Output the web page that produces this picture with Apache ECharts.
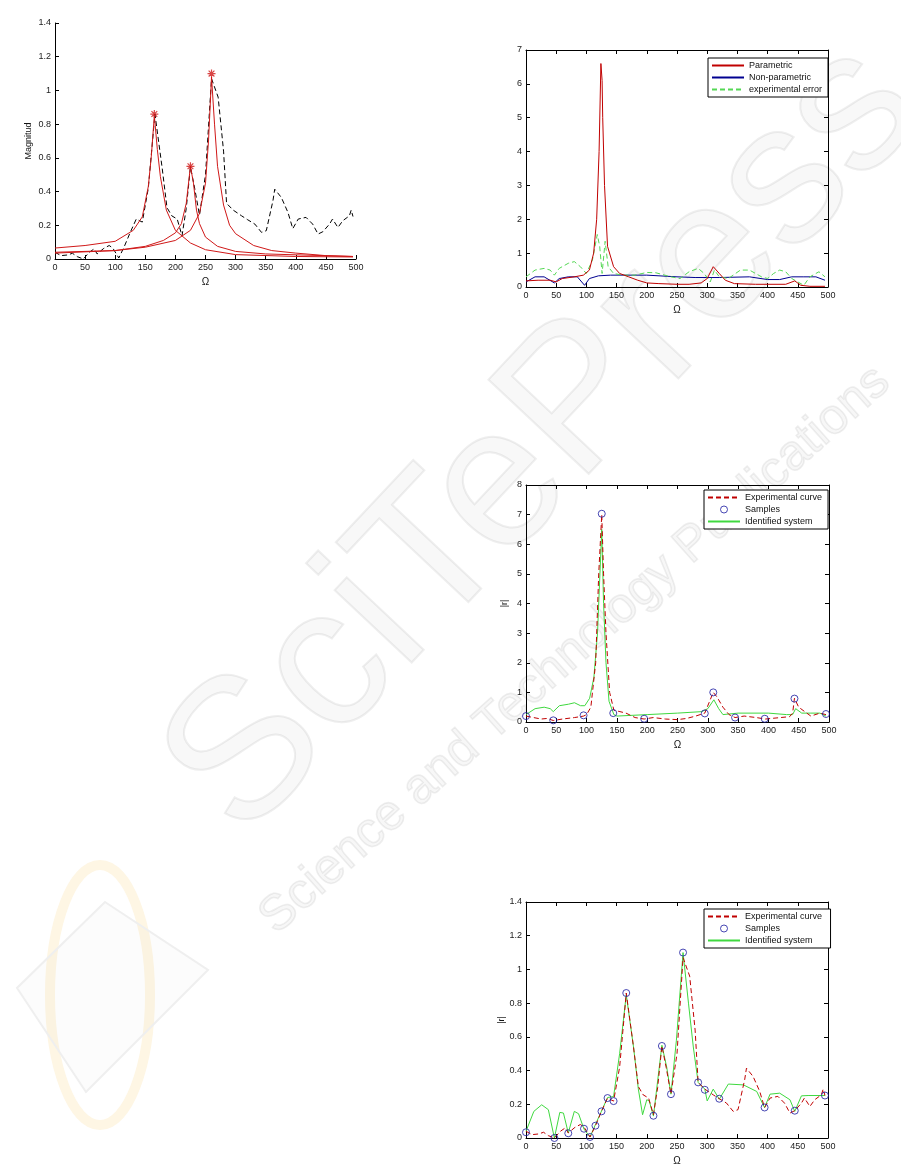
<!DOCTYPE html>
<html><head><meta charset="utf-8">
<script src="https://cdn.jsdelivr.net/npm/echarts@6/dist/echarts.min.js"></script>
<style>html,body{margin:0;padding:0;background:#fff}#c{width:901px;height:1171px}</style>
</head><body><div id="c"></div>
<script>
// ---------- shared x ticks ----------
const xTicks = [0,50,100,150,200,250,300,350,400,450,500];

// ---------- experimental curve (charts 1 and 4) ----------
const expX = [0,10,21,29,37,47,57,65,70,81,90,96,106,115,125,135,145,155,166,178,186,194,203,211,218,225,232,240,250,260,271,280,285,296,310,320,332,343,351,362,365,376,387,395,404,417,428,437,445,456,461,470,478,489,492,495];
const expY = [0.04,0.02,0.024,0.034,0.014,0.0,0.04,0.06,0.03,0.063,0.08,0.065,0.006,0.073,0.158,0.237,0.219,0.42,0.86,0.54,0.305,0.256,0.237,0.138,0.3,0.546,0.42,0.26,0.5,1.07,0.96,0.64,0.33,0.29,0.256,0.233,0.207,0.158,0.168,0.345,0.414,0.365,0.276,0.18,0.237,0.247,0.207,0.148,0.162,0.207,0.237,0.187,0.227,0.256,0.29,0.252];

// ---------- chart 1: modal fits ----------
const fitAX = [0,50,100,130,145,155,160,165,170,175,185,200,225,250,300,400,495];
const fitAY = [0.065,0.08,0.105,0.17,0.25,0.43,0.61,0.85,0.65,0.49,0.29,0.17,0.095,0.055,0.026,0.015,0.012];
const fitBX = [0,100,150,180,200,210,218,225,230,235,240,250,270,300,350,495];
const fitBY = [0.035,0.05,0.075,0.11,0.155,0.21,0.33,0.55,0.45,0.29,0.21,0.13,0.075,0.045,0.03,0.015];
const fitCX = [0,100,150,200,225,240,250,255,260,265,270,280,290,300,330,360,400,450,495];
const fitCY = [0.04,0.05,0.07,0.11,0.17,0.27,0.45,0.7,1.08,0.8,0.55,0.32,0.2,0.15,0.08,0.05,0.035,0.02,0.015];
const peakX = [165,225,260];
const peakY = [0.86,0.55,1.1];

// ---------- chart 2 ----------
const parX = [0,20,40,50,60,80,95,105,112,117,121,124,126,127,130,135,145,155,170,185,200,220,250,270,290,300,310,320,330,345,380,430,445,455,470,495];
const parY = [0.18,0.2,0.2,0.15,0.25,0.3,0.35,0.5,1.0,2.0,4.0,6.6,6.1,5.0,3.0,1.2,0.6,0.4,0.3,0.2,0.12,0.1,0.08,0.08,0.12,0.25,0.6,0.4,0.2,0.1,0.08,0.08,0.18,0.05,0.02,0.02];
const nonX = [0,15,30,47,55,70,85,97,105,120,140,200,250,280,320,370,400,420,440,460,480,495];
const nonY = [0.15,0.3,0.3,0.12,0.25,0.3,0.3,0.05,0.25,0.33,0.35,0.35,0.3,0.28,0.28,0.3,0.22,0.22,0.3,0.3,0.3,0.2];
const errX = [0,15,30,40,47,55,70,80,90,100,110,118,122,126,131,136,145,160,180,200,215,240,255,270,285,295,305,312,320,335,355,370,390,400,410,420,430,440,460,470,485,495];
const errY = [0.3,0.5,0.55,0.5,0.35,0.55,0.7,0.75,0.6,0.4,0.8,1.55,1.2,0.4,1.35,0.6,0.4,0.35,0.35,0.43,0.42,0.3,0.25,0.45,0.55,0.4,0.15,0.5,0.3,0.25,0.5,0.5,0.3,0.25,0.4,0.5,0.45,0.25,0.05,0.3,0.45,0.3];

// ---------- chart 3 ----------
const e3X = [0,25,35,45,60,80,95,100,107,115,120,125,128,132,138,145,155,165,180,195,210,230,250,265,280,295,303,309,315,325,335,345,360,380,395,420,435,440,443,450,460,470,485,495];
const e3Y = [0.2,0.1,0.12,0.05,0.1,0.15,0.2,0.25,0.5,2.0,5.0,7.0,5.0,3.0,1.0,0.4,0.35,0.3,0.15,0.1,0.15,0.1,0.08,0.12,0.2,0.3,0.7,1.0,0.85,0.5,0.25,0.15,0.2,0.15,0.1,0.15,0.18,0.3,0.8,0.5,0.35,0.2,0.3,0.25];
const s3X = [0,45,95,125,144,195,295,309,345,394,443,495];
const s3Y = [0.2,0.056,0.225,7.03,0.3,0.11,0.29,1.0,0.15,0.11,0.79,0.27];
const g3X = [0,15,30,40,45,55,70,80,90,97,105,112,118,122,125,128,132,137,145,150,200,250,290,300,310,318,325,350,400,430,440,445,455,470,485,495];
const g3Y = [0.25,0.45,0.5,0.45,0.35,0.55,0.6,0.65,0.55,0.55,0.8,1.5,3.0,5.0,6.5,4.0,2.0,0.7,0.25,0.2,0.25,0.3,0.35,0.45,0.75,0.45,0.25,0.3,0.3,0.25,0.25,0.45,0.3,0.3,0.3,0.2];

// ---------- chart 4 ----------
const s4X = [0,47,70,96,106,115,125,135,145,166,211,225,240,260,285,296,320,395,445,495];
const s4Y = [0.034,0.0,0.028,0.055,0.006,0.073,0.158,0.237,0.219,0.86,0.132,0.546,0.26,1.1,0.33,0.286,0.233,0.181,0.162,0.252];
const g4X = [0,13,26,37,47,56,62,70,80,87,96,106,115,125,135,145,155,166,178,186,193,200,204,211,225,233,240,249,260,269,277,285,296,300,310,313,320,335,360,382,395,404,420,437,445,456,467,495];
const g4Y = [0.04,0.158,0.197,0.168,0.0,0.152,0.148,0.03,0.158,0.144,0.053,0.006,0.08,0.16,0.24,0.246,0.5,0.85,0.54,0.29,0.138,0.227,0.22,0.13,0.55,0.42,0.26,0.58,1.1,0.8,0.54,0.33,0.29,0.22,0.29,0.3,0.23,0.32,0.315,0.276,0.18,0.26,0.266,0.227,0.158,0.25,0.252,0.252];

const zip = (xs, ys) => xs.map((x, i) => [x, ys[i]]);

const FONT = 'Liberation Sans';
const grids = [
  {left: 55, top: 23, width: 301, height: 236},
  {left: 526, top: 50, width: 302, height: 237},
  {left: 526, top: 485, width: 303, height: 237},
  {left: 526, top: 902, width: 302, height: 236}
];
const yRanges = [[0,1.4,0.2],[0,7,1],[0,8,1],[0,1.4,0.2]];
const yNames = ['Magnitud', '', '|r|', '|r|'];

const xAxes = [], yAxes = [];
grids.forEach((g, i) => {
  const boxed = i > 0;
  const base = {
    type: 'value', gridIndex: i, min: 0, max: 500, interval: 50,
    axisLine: {show: true, onZero: false, lineStyle: {color: '#000', width: 1}},
    axisTick: {show: true, inside: true, length: 4, lineStyle: {color: '#000'}},
    splitLine: {show: false}
  };
  xAxes.push(Object.assign({}, base, {
    position: 'bottom', name: 'Ω', nameLocation: 'middle', nameGap: 18,
    nameTextStyle: {fontFamily: FONT, fontSize: 10, color: '#111'},
    axisLabel: {fontFamily: FONT, fontSize: 9, color: '#222', margin: 4}
  }));
  const [mn, mx, iv] = yRanges[i];
  const ybase = {
    type: 'value', gridIndex: i, min: mn, max: mx, interval: iv,
    axisLine: {show: true, onZero: false, lineStyle: {color: '#000', width: 1}},
    axisTick: {show: true, inside: true, length: 4, lineStyle: {color: '#000'}},
    splitLine: {show: false}
  };
  yAxes.push(Object.assign({}, ybase, {
    position: 'left', name: yNames[i], nameLocation: 'middle', nameGap: i === 0 ? 22 : 17,
    nameTextStyle: {fontFamily: FONT, fontSize: 9, color: '#111'},
    axisLabel: {fontFamily: FONT, fontSize: 9, color: '#222', margin: 4}
  }));
  if (boxed) {
    xAxes.push(Object.assign({}, base, {position: 'top', axisLabel: {show: false}}));
    yAxes.push(Object.assign({}, ybase, {position: 'right', axisLabel: {show: false}}));
  }
});
const XI = [0, 1, 3, 5];
const YI = [0, 1, 3, 5];

const RED = '#d01818', DRED = '#c00000', BLUE = '#000090', LGREEN = '#55d855', GREEN = '#3fd83f', CIRC = '#1a1aa0';

function line(name, ci, data, color, dashed, z) {
  return {
    name, type: 'line', xAxisIndex: XI[ci], yAxisIndex: YI[ci], data,
    symbol: 'none', smooth: false, animation: false, z: z || 2,
    lineStyle: {color, width: 1, type: dashed ? [5, 3] : 'solid'},
    itemStyle: {color}
  };
}
const STAR = 'path://M0,-5L0,5M-5,0L5,0M-3.6,-3.6L3.6,3.6M-3.6,3.6L3.6,-3.6';

const series = [
  line('exp1', 0, zip(expX, expY), '#000', true),
  line('fitA', 0, zip(fitAX, fitAY), RED, false),
  line('fitB', 0, zip(fitBX, fitBY), RED, false),
  line('fitC', 0, zip(fitCX, fitCY), RED, false),
  {type: 'scatter', xAxisIndex: 0, yAxisIndex: 0, data: zip(peakX, peakY), symbol: STAR, symbolSize: 8,
   itemStyle: {color: 'none', borderColor: RED, borderWidth: 1.2}, animation: false, z: 5},

  line('Parametric', 1, zip(parX, parY), DRED, false, 3),
  line('Non-parametric', 1, zip(nonX, nonY), BLUE, false, 2),
  line('experimental error', 1, zip(errX, errY), LGREEN, true, 2),

  line('Experimental curve', 2, zip(e3X, e3Y), DRED, true, 3),
  {name: 'Samples', type: 'scatter', xAxisIndex: XI[2], yAxisIndex: YI[2], data: zip(s3X, s3Y), symbol: 'circle', symbolSize: 7,
   itemStyle: {color: 'rgba(255,255,255,0)', borderColor: CIRC, borderWidth: 1}, animation: false, z: 5},
  line('Identified system', 2, zip(g3X, g3Y), GREEN, false, 2),

  line('Experimental curve ', 3, zip(expX, expY), DRED, true, 3),
  {name: 'Samples ', type: 'scatter', xAxisIndex: XI[3], yAxisIndex: YI[3], data: zip(s4X, s4Y), symbol: 'circle', symbolSize: 7,
   itemStyle: {color: 'rgba(255,255,255,0)', borderColor: CIRC, borderWidth: 1}, animation: false, z: 5},
  line('Identified system ', 3, zip(g4X, g4Y), GREEN, false, 2)
];

const NOSYM = {opacity: 0};
function li(name) { return {name, itemStyle: NOSYM}; }
const SAMP = {color: '#fff', borderColor: CIRC, borderWidth: 1};
function legend(data, left, top) {
  return {
    data, left, top, orient: 'vertical', itemWidth: 32, itemHeight: 7, itemGap: 3,
    padding: [3, 6, 3, 3], backgroundColor: '#fff', borderColor: '#000', borderWidth: 1, borderRadius: 0,
    textStyle: {fontFamily: FONT, fontSize: 9, color: '#111'}, selectedMode: false
  };
}

const WM = '#efefef';
const option = {
  backgroundColor: '#fff',
  animation: false,
  grid: grids.map((g) => Object.assign({containLabel: false, show: false}, g)),
  xAxis: xAxes,
  yAxis: yAxes,
  legend: [
    legend([li('Parametric'), li('Non-parametric'), li('experimental error')], 708, 58),
    legend([li('Experimental curve'), {name: 'Samples', icon: 'circle', itemStyle: SAMP}, li('Identified system')], 704, 490),
    legend([li('Experimental curve '), {name: 'Samples ', icon: 'circle', itemStyle: SAMP}, li('Identified system ')], 704, 909)
  ],
  graphic: [
    {type: 'text', x: 545, y: 440, rotation: Math.PI * 0.26, z: -10, silent: true,
     style: {text: 'SciTePress', fontFamily: FONT, fontSize: 200, fill: 'rgba(0,0,0,0.028)', stroke: WM, lineWidth: 2, align: 'center', verticalAlign: 'middle'}},
    {type: 'text', x: 575, y: 650, rotation: Math.PI * 0.232, z: -10, silent: true,
     style: {text: 'Science and Technology Publications', fontFamily: FONT, fontSize: 50, fill: 'rgba(0,0,0,0.03)', stroke: WM, lineWidth: 1.5, align: 'center', verticalAlign: 'middle'}},
    {type: 'ellipse', shape: {cx: 100, cy: 995, rx: 50, ry: 130}, z: -10, silent: true,
     style: {fill: 'none', stroke: '#fef6e4', lineWidth: 10}},
    {type: 'polygon', shape: {points: [[105, 902], [208, 970], [86, 1092], [17, 988]]}, z: -9, silent: true,
     style: {fill: 'rgba(0,0,0,0.012)', stroke: '#efefef', lineWidth: 2}}
  ],
  series
};

const chart = echarts.init(document.getElementById('c'), null, {renderer: 'canvas'});
chart.setOption(option);
</script>
</body></html>
